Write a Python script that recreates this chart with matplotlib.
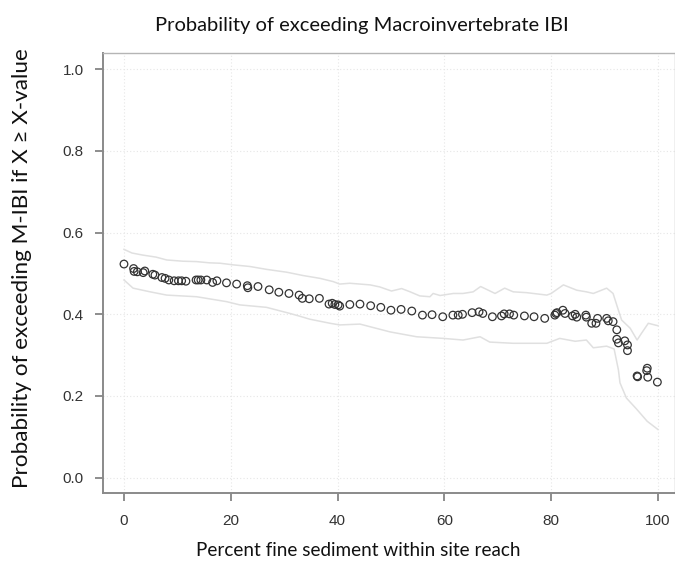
import matplotlib
matplotlib.use("Agg")
import matplotlib.pyplot as plt

# Estimated exceedance probability at each fine-sediment value
sediment_pct = [
    0, 1.8, 1.9, 2.5, 3.6, 3.9, 5.4, 5.8, 7.1, 7.7,
    8.4, 9.4, 10.2, 10.8, 11.6, 13.5, 13.9, 14.4, 15.5, 16.6,
    17.4, 19.2, 21.1, 23.1, 23.2, 25.1, 27.2, 29.0, 30.9, 32.8,
    33.4, 34.7, 36.6, 38.4, 39.0, 39.5, 40.1, 40.4, 42.3, 44.2,
    46.2, 48.1, 50.0, 51.9, 53.9, 55.9, 57.7, 59.7, 61.6, 62.6,
    63.4, 65.2, 66.5, 67.2, 69.0, 70.7, 71.2, 72.2, 73.0, 75.0,
    76.8, 78.8, 80.7, 80.9, 81.1, 82.2, 82.6, 84.0, 84.5, 84.8,
    86.5, 86.6, 87.6, 88.4, 88.7, 90.4, 90.7, 91.6, 92.3, 92.3,
    92.6, 93.8, 94.3, 94.3, 96.1, 96.2, 97.9, 98.0, 98.1, 99.9,
]
prob_exceed = [
    0.523, 0.512, 0.505, 0.504, 0.502, 0.506, 0.498, 0.496, 0.490, 0.488,
    0.484, 0.482, 0.482, 0.482, 0.481, 0.484, 0.484, 0.484, 0.484, 0.478,
    0.482, 0.477, 0.474, 0.470, 0.465, 0.468, 0.460, 0.454, 0.451, 0.447,
    0.439, 0.438, 0.439, 0.425, 0.427, 0.424, 0.423, 0.420, 0.424, 0.425,
    0.421, 0.417, 0.410, 0.412, 0.408, 0.398, 0.399, 0.394, 0.398, 0.398,
    0.400, 0.404, 0.406, 0.402, 0.394, 0.396, 0.401, 0.401, 0.398, 0.396,
    0.394, 0.390, 0.398, 0.402, 0.404, 0.410, 0.402, 0.396, 0.400, 0.393,
    0.398, 0.393, 0.378, 0.378, 0.390, 0.390, 0.384, 0.382, 0.362, 0.339,
    0.330, 0.335, 0.325, 0.311, 0.249, 0.247, 0.262, 0.268, 0.246, 0.234,
]

# Upper confidence bound
upper_x = [
    0, 1.5, 3.5, 6, 8, 11, 13.6, 16, 18, 20.5,
    23.6, 26.7, 30.5, 33.5, 36.7, 39.2, 40.4, 42.3, 46.1, 47.9,
    50.1, 52.0, 53.6, 55.4, 57.3, 57.9, 59.2, 61.7, 63.5, 65.4,
    66.8, 69.5, 71.3, 72.9, 75.4, 79.2, 80.0, 82.3, 84.8, 86.6,
    87.9, 90.4, 91.6, 92.6, 93.2, 94.8, 96.1, 96.9, 98.2, 100,
]
upper_y = [
    0.559, 0.550, 0.545, 0.540, 0.533, 0.530, 0.529, 0.526, 0.525, 0.521,
    0.517, 0.510, 0.503, 0.495, 0.488, 0.480, 0.474, 0.476, 0.472, 0.467,
    0.457, 0.463, 0.455, 0.445, 0.443, 0.451, 0.446, 0.451, 0.451, 0.455,
    0.468, 0.451, 0.464, 0.455, 0.453, 0.447, 0.451, 0.472, 0.459, 0.455,
    0.451, 0.464, 0.451, 0.410, 0.386, 0.366, 0.337, 0.353, 0.378, 0.372,
]

# Lower confidence bound
lower_x = [
    0, 1.7, 4.9, 8.0, 13.6, 19.2, 21.7, 26.7, 31.1, 33.0,
    34.8, 38.6, 40.4, 44.2, 49.8, 54.8, 59.8, 63.5, 66.7, 68.5,
    72.9, 79.2, 81.6, 84.5, 86.6, 87.9, 90.4, 91.8, 92.6, 92.9,
    94.1, 96.0, 98.0, 100,
]
lower_y = [
    0.484, 0.464, 0.455, 0.447, 0.443, 0.431, 0.423, 0.417, 0.402, 0.395,
    0.388, 0.378, 0.374, 0.376, 0.357, 0.345, 0.341, 0.337, 0.345, 0.332,
    0.329, 0.329, 0.341, 0.334, 0.337, 0.318, 0.322, 0.315, 0.264, 0.232,
    0.195, 0.168, 0.138, 0.118,
]

x_ticks = [0, 20, 40, 60, 80, 100]
y_ticks = [0.0, 0.2, 0.4, 0.6, 0.8, 1.0]

W, H = 675, 570
fig = plt.figure(figsize=(W / 100, H / 100), dpi=100)
ax = fig.add_axes([103 / W, 77 / H, 572 / W, 440 / H])

ax.set_xlim(-3.93, 103.2)
ax.set_ylim(-0.0375, 1.0397)

for xv in x_ticks:
    ax.axvline(xv, color="#e6e6e6", lw=0.8, ls=(0, (1, 2)), zorder=0)
for yv in y_ticks:
    ax.axhline(yv, color="#e6e6e6", lw=0.8, ls=(0, (1, 2)), zorder=0)

ax.plot(upper_x, upper_y, color="#e0e0e0", lw=1.1, zorder=1)
ax.plot(lower_x, lower_y, color="#e0e0e0", lw=1.1, zorder=1)

ax.scatter(sediment_pct, prob_exceed, s=30, facecolors="none",
           edgecolors="#333333", linewidths=0.9, zorder=2)

tick_font = dict(family="Liberation Sans", fontsize=11, color="#333333")
ax.set_xticks(x_ticks)
ax.set_xticklabels([str(v) for v in x_ticks], **tick_font)
ax.set_yticks(y_ticks)
ax.set_yticklabels([f"{v:.1f}" for v in y_ticks], **tick_font)

for side in ("left", "bottom"):
    ax.spines[side].set_color("#8a8a8a")
    ax.spines[side].set_linewidth(1.4)
for side in ("top", "right"):
    ax.spines[side].set_color("#b5b5b5")
    ax.spines[side].set_linewidth(1.0)

ax.tick_params(axis="both", direction="out", length=6, width=1.2,
               color="#7a7a7a")
ax.tick_params(axis="x", pad=9)
ax.tick_params(axis="y", pad=8)

label_font = ["Lato", "DejaVu Sans"]
fig.text(362 / W, 1 - 25 / H, "Probability of exceeding Macroinvertebrate IBI",
         ha="center", va="center", fontsize=14.5, family=label_font,
         color="#111111")
fig.text(358 / W, 1 - 551 / H, "Percent fine sediment within site reach",
         ha="center", va="center", fontsize=13.6, family=label_font,
         color="#111111")
fig.text(22 / W, 1 - 268 / H, "Probability of exceeding M-IBI if X \u2265 X-value",
         ha="center", va="center", rotation=90, fontsize=16.2,
         family=label_font, color="#111111")

fig.savefig("out.png", dpi=100)
